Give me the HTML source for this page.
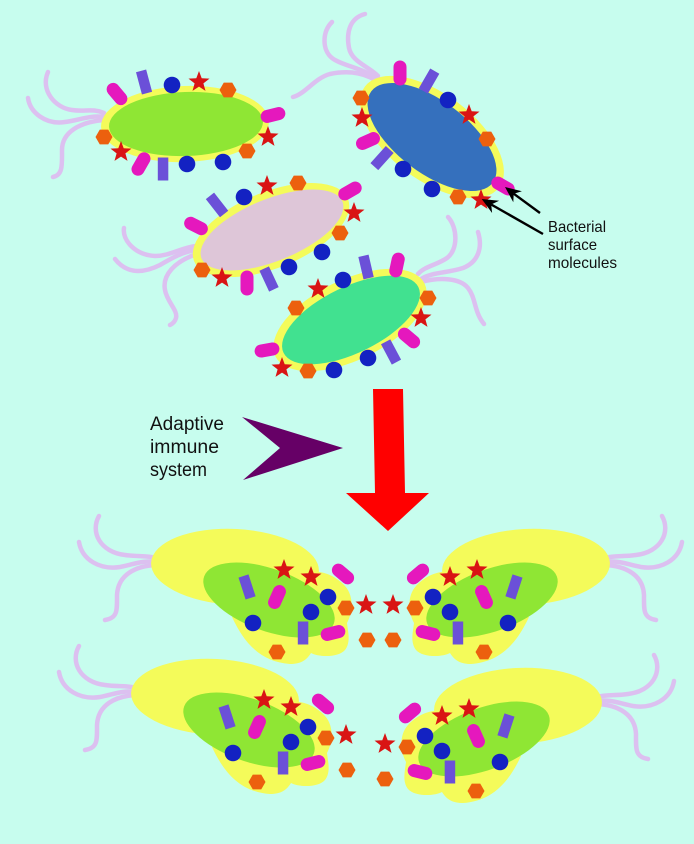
<!DOCTYPE html>
<html><head><meta charset="utf-8"><style>
html,body{margin:0;padding:0;background:#c7fdee;}
svg{display:block}
.fl{fill:none;stroke:#dcc0f0;stroke-width:4.5;stroke-linecap:round}
.y{fill:#f4fb5a}
.st{fill:#d91414}
.hx{fill:#ec600e}
.pl{fill:#e518bd}
.pr{fill:#6b50d8}
.bl{fill:#1322c2}
</style></head><body>
<svg width="694" height="844" viewBox="0 0 694 844" xmlns="http://www.w3.org/2000/svg">
<rect width="694" height="844" fill="#c7fdee"/>

<!-- Cell 1 green -->
<g>
<path class="fl" d="M48,72 C40,90 55,108 72,110 C85,112 92,108 104,113"/>
<path class="fl" d="M28,98 C30,112 45,125 65,122 C80,120 90,115 104,117"/>
<path class="fl" d="M104,120 C80,122 62,132 62,150 C62,165 63,175 53,177"/>
<ellipse class="y" cx="185" cy="124" rx="84" ry="38" transform="rotate(-2 185 124)"/>
<ellipse cx="186" cy="124" rx="77" ry="32" fill="#8fe634" transform="rotate(-2 186 124)"/>
<rect class="pl" x="-6.5" y="-12.5" width="13" height="25" rx="6.5" transform="translate(117,94) rotate(-40)"/>
<rect class="pl" x="-6.5" y="-12.5" width="13" height="25" rx="6.5" transform="translate(273,115) rotate(76)"/>
<rect class="pl" x="-6.5" y="-12.5" width="13" height="25" rx="6.5" transform="translate(141,164) rotate(30)"/>
<rect class="pr" x="-5.2" y="-11.5" width="10.5" height="23" transform="translate(144,82) rotate(-15)"/>
<rect class="pr" x="-5.2" y="-11.5" width="10.5" height="23" transform="translate(163,169)"/>
<circle class="bl" cx="172" cy="85" r="8.3"/>
<circle class="bl" cx="187" cy="164" r="8.3"/>
<circle class="bl" cx="223" cy="162" r="8.3"/>
<polygon class="st" transform="translate(199,82)" points="0,-11 2.7,-3.7 10.5,-3.4 4.4,1.4 6.5,8.9 0,4.6 -6.5,8.9 -4.4,1.4 -10.5,-3.4 -2.7,-3.7"/>
<polygon class="st" transform="translate(268,137)" points="0,-11 2.7,-3.7 10.5,-3.4 4.4,1.4 6.5,8.9 0,4.6 -6.5,8.9 -4.4,1.4 -10.5,-3.4 -2.7,-3.7"/>
<polygon class="st" transform="translate(121,152)" points="0,-11 2.7,-3.7 10.5,-3.4 4.4,1.4 6.5,8.9 0,4.6 -6.5,8.9 -4.4,1.4 -10.5,-3.4 -2.7,-3.7"/>
<polygon class="hx" transform="translate(228,90)" points="8.5,0 4.25,7.4 -4.25,7.4 -8.5,0 -4.25,-7.4 4.25,-7.4"/>
<polygon class="hx" transform="translate(247,151)" points="8.5,0 4.25,7.4 -4.25,7.4 -8.5,0 -4.25,-7.4 4.25,-7.4"/>
<polygon class="hx" transform="translate(104,137)" points="8.5,0 4.25,7.4 -4.25,7.4 -8.5,0 -4.25,-7.4 4.25,-7.4"/>
</g>

<!-- Cell 2 blue -->
<g>
<path class="fl" d="M332,22 C322,32 322,50 332,58 C342,66 365,68 378,80"/>
<path class="fl" d="M365,14 C350,18 346,32 349,48 C352,62 368,66 378,76"/>
<path class="fl" d="M293,97 C305,94 315,78 330,74 C350,70 368,73 380,84"/>
<ellipse class="y" cx="432" cy="137" rx="84" ry="43" transform="rotate(37 432 137)"/>
<ellipse cx="432" cy="137" rx="76" ry="36" fill="#3570bd" transform="rotate(37 432 137)"/>
<rect class="pl" x="-6.5" y="-12.5" width="13" height="25" rx="6.5" transform="translate(400,73)"/>
<rect class="pl" x="-6.5" y="-12.5" width="13" height="25" rx="6.5" transform="translate(503,186) rotate(-60)"/>
<rect class="pl" x="-6.5" y="-12.5" width="13" height="25" rx="6.5" transform="translate(368,141) rotate(66)"/>
<rect class="pr" x="-5.2" y="-11.5" width="10.5" height="23" transform="translate(429,81) rotate(30)"/>
<rect class="pr" x="-5.2" y="-11.5" width="10.5" height="23" transform="translate(382,158) rotate(42)"/>
<circle class="bl" cx="448" cy="100" r="8.3"/>
<circle class="bl" cx="432" cy="189" r="8.3"/>
<circle class="bl" cx="403" cy="169" r="8.3"/>
<polygon class="st" transform="translate(469,115)" points="0,-11 2.7,-3.7 10.5,-3.4 4.4,1.4 6.5,8.9 0,4.6 -6.5,8.9 -4.4,1.4 -10.5,-3.4 -2.7,-3.7"/>
<polygon class="st" transform="translate(481,200)" points="0,-11 2.7,-3.7 10.5,-3.4 4.4,1.4 6.5,8.9 0,4.6 -6.5,8.9 -4.4,1.4 -10.5,-3.4 -2.7,-3.7"/>
<polygon class="st" transform="translate(362,118)" points="0,-11 2.7,-3.7 10.5,-3.4 4.4,1.4 6.5,8.9 0,4.6 -6.5,8.9 -4.4,1.4 -10.5,-3.4 -2.7,-3.7"/>
<polygon class="hx" transform="translate(487,139)" points="8.5,0 4.25,7.4 -4.25,7.4 -8.5,0 -4.25,-7.4 4.25,-7.4"/>
<polygon class="hx" transform="translate(458,197)" points="8.5,0 4.25,7.4 -4.25,7.4 -8.5,0 -4.25,-7.4 4.25,-7.4"/>
<polygon class="hx" transform="translate(361,98)" points="8.5,0 4.25,7.4 -4.25,7.4 -8.5,0 -4.25,-7.4 4.25,-7.4"/>
</g>

<!-- Cell 3 pink -->
<g>
<path class="fl" d="M124,228 C122,240 135,255 155,256 C170,256 180,248 196,246"/>
<path class="fl" d="M115,259 C125,272 140,275 160,265 C172,258 182,252 196,250"/>
<path class="fl" d="M194,255 C175,262 162,275 165,290 C167,302 178,310 176,318 C175,322 172,324 170,325"/>
<ellipse class="y" cx="271" cy="230" rx="83" ry="38" transform="rotate(-22 271 230)"/>
<ellipse cx="272" cy="230" rx="76" ry="31" fill="#dec6d8" transform="rotate(-22 272 230)"/>
<rect class="pl" x="-6.5" y="-12.5" width="13" height="25" rx="6.5" transform="translate(350,191) rotate(60)"/>
<rect class="pl" x="-6.5" y="-12.5" width="13" height="25" rx="6.5" transform="translate(247,283)"/>
<rect class="pl" x="-6.5" y="-12.5" width="13" height="25" rx="6.5" transform="translate(196,226) rotate(-63)"/>
<rect class="pr" x="-5.2" y="-11.5" width="10.5" height="23" transform="translate(217,205) rotate(-38)"/>
<rect class="pr" x="-5.2" y="-11.5" width="10.5" height="23" transform="translate(269,279) rotate(-25)"/>
<circle class="bl" cx="244" cy="197" r="8.3"/>
<circle class="bl" cx="322" cy="252" r="8.3"/>
<circle class="bl" cx="289" cy="267" r="8.3"/>
<polygon class="st" transform="translate(267,186)" points="0,-11 2.7,-3.7 10.5,-3.4 4.4,1.4 6.5,8.9 0,4.6 -6.5,8.9 -4.4,1.4 -10.5,-3.4 -2.7,-3.7"/>
<polygon class="st" transform="translate(354,213)" points="0,-11 2.7,-3.7 10.5,-3.4 4.4,1.4 6.5,8.9 0,4.6 -6.5,8.9 -4.4,1.4 -10.5,-3.4 -2.7,-3.7"/>
<polygon class="st" transform="translate(222,278)" points="0,-11 2.7,-3.7 10.5,-3.4 4.4,1.4 6.5,8.9 0,4.6 -6.5,8.9 -4.4,1.4 -10.5,-3.4 -2.7,-3.7"/>
<polygon class="hx" transform="translate(298,183)" points="8.5,0 4.25,7.4 -4.25,7.4 -8.5,0 -4.25,-7.4 4.25,-7.4"/>
<polygon class="hx" transform="translate(340,233)" points="8.5,0 4.25,7.4 -4.25,7.4 -8.5,0 -4.25,-7.4 4.25,-7.4"/>
<polygon class="hx" transform="translate(202,270)" points="8.5,0 4.25,7.4 -4.25,7.4 -8.5,0 -4.25,-7.4 4.25,-7.4"/>
</g>

<!-- Cell 4 teal -->
<g>
<path class="fl" d="M448,217 C458,228 458,250 447,258 C437,265 425,266 418,274"/>
<path class="fl" d="M478,232 C483,248 478,262 463,268 C448,273 432,272 421,279"/>
<path class="fl" d="M421,282 C440,277 460,278 468,288 C476,298 474,312 484,324"/>
<ellipse class="y" cx="350" cy="320" rx="83" ry="40" transform="rotate(-26 350 320)"/>
<ellipse cx="351" cy="320" rx="75" ry="33" fill="#41e190" transform="rotate(-26 351 320)"/>
<rect class="pl" x="-6.5" y="-12.5" width="13" height="25" rx="6.5" transform="translate(397,265) rotate(12)"/>
<rect class="pl" x="-6.5" y="-12.5" width="13" height="25" rx="6.5" transform="translate(409,338) rotate(-50)"/>
<rect class="pl" x="-6.5" y="-12.5" width="13" height="25" rx="6.5" transform="translate(267,350) rotate(80)"/>
<rect class="pr" x="-5.2" y="-11.5" width="10.5" height="23" transform="translate(366,267) rotate(-13)"/>
<rect class="pr" x="-5.2" y="-11.5" width="10.5" height="23" transform="translate(391,352) rotate(-28)"/>
<circle class="bl" cx="343" cy="280" r="8.3"/>
<circle class="bl" cx="368" cy="358" r="8.3"/>
<circle class="bl" cx="334" cy="370" r="8.3"/>
<polygon class="st" transform="translate(318,289)" points="0,-11 2.7,-3.7 10.5,-3.4 4.4,1.4 6.5,8.9 0,4.6 -6.5,8.9 -4.4,1.4 -10.5,-3.4 -2.7,-3.7"/>
<polygon class="st" transform="translate(421,318)" points="0,-11 2.7,-3.7 10.5,-3.4 4.4,1.4 6.5,8.9 0,4.6 -6.5,8.9 -4.4,1.4 -10.5,-3.4 -2.7,-3.7"/>
<polygon class="st" transform="translate(282,368)" points="0,-11 2.7,-3.7 10.5,-3.4 4.4,1.4 6.5,8.9 0,4.6 -6.5,8.9 -4.4,1.4 -10.5,-3.4 -2.7,-3.7"/>
<polygon class="hx" transform="translate(296,308)" points="8.5,0 4.25,7.4 -4.25,7.4 -8.5,0 -4.25,-7.4 4.25,-7.4"/>
<polygon class="hx" transform="translate(428,298)" points="8.5,0 4.25,7.4 -4.25,7.4 -8.5,0 -4.25,-7.4 4.25,-7.4"/>
<polygon class="hx" transform="translate(308,371)" points="8.5,0 4.25,7.4 -4.25,7.4 -8.5,0 -4.25,-7.4 4.25,-7.4"/>
</g>

<!-- Labels and arrows -->
<g font-family="'Liberation Sans', sans-serif" fill="#111">
<text x="548" y="232" font-size="16" textLength="58" lengthAdjust="spacingAndGlyphs">Bacterial</text>
<text x="548" y="250" font-size="16" textLength="49" lengthAdjust="spacingAndGlyphs">surface</text>
<text x="548" y="268" font-size="16" textLength="69" lengthAdjust="spacingAndGlyphs">molecules</text>
<text x="150" y="430" font-size="19" textLength="74" lengthAdjust="spacingAndGlyphs">Adaptive</text>
<text x="150" y="453" font-size="19" textLength="69" lengthAdjust="spacingAndGlyphs">immune</text>
<text x="150" y="476" font-size="19" textLength="57" lengthAdjust="spacingAndGlyphs">system</text>
</g>
<line x1="540" y1="213" x2="513.7" y2="193.7" stroke="#000" stroke-width="2.4"/>
<polygon points="505,187 521.9,191.3 513.7,193.7 513.3,202.3" fill="#000"/>
<line x1="543" y1="234" x2="491.2" y2="204.5" stroke="#000" stroke-width="2.4"/>
<polygon points="481.7,199 499.1,200.8 491.2,204.5 492.1,213" fill="#000"/>

<polygon points="242,417 343,448 243,480 280,448" fill="#660066"/>
<polygon points="373,389 403,389 405,493 429,493 388,531 346,493 375,493" fill="#ff0000"/>

<!-- Bottom cells -->
<g id="c5">
<path class="fl" d="M99,516 C90,532 100,552 125,555 C138,557 146,555 156,558"/>
<path class="fl" d="M79,542 C82,560 100,570 120,567 C135,564 143,560 156,562"/>
<path class="fl" d="M156,565 C135,566 118,575 117,595 C117,610 118,618 105,620"/>
<ellipse class="y" cx="235" cy="567" rx="84" ry="38" transform="rotate(3 235 567)"/>
<path class="y" d="M232,617 C245,645 262,662 290,664 C300,664 306,661 311,653 C318,657 338,658 345,650 C351,642 348,632 347,623 C353,612 354,596 345,586 C336,576 322,570 310,572 L280,590 Z"/>
<ellipse cx="269" cy="600" rx="69" ry="31" fill="#8fe634" transform="rotate(20 269 600)"/>
<rect class="pl" x="-6.5" y="-12.5" width="13" height="25" rx="6.5" transform="translate(343,574) rotate(-50)"/>
<rect class="pl" x="-6.5" y="-12.5" width="13" height="25" rx="6.5" transform="translate(277,597) rotate(24)"/>
<rect class="pl" x="-6.5" y="-12.5" width="13" height="25" rx="6.5" transform="translate(333,633) rotate(76)"/>
<rect class="pr" x="-5.2" y="-11.5" width="10.5" height="23" transform="translate(247,587) rotate(-18)"/>
<rect class="pr" x="-5.2" y="-11.5" width="10.5" height="23" transform="translate(303,633)"/>
<circle class="bl" cx="328" cy="597" r="8.3"/>
<circle class="bl" cx="311" cy="612" r="8.3"/>
<circle class="bl" cx="253" cy="623" r="8.3"/>
<polygon class="st" transform="translate(284,570)" points="0,-11 2.7,-3.7 10.5,-3.4 4.4,1.4 6.5,8.9 0,4.6 -6.5,8.9 -4.4,1.4 -10.5,-3.4 -2.7,-3.7"/>
<polygon class="st" transform="translate(311,577)" points="0,-11 2.7,-3.7 10.5,-3.4 4.4,1.4 6.5,8.9 0,4.6 -6.5,8.9 -4.4,1.4 -10.5,-3.4 -2.7,-3.7"/>
<polygon class="st" transform="translate(366,605)" points="0,-11 2.7,-3.7 10.5,-3.4 4.4,1.4 6.5,8.9 0,4.6 -6.5,8.9 -4.4,1.4 -10.5,-3.4 -2.7,-3.7"/>
<polygon class="hx" transform="translate(346,608)" points="8.5,0 4.25,7.4 -4.25,7.4 -8.5,0 -4.25,-7.4 4.25,-7.4"/>
<polygon class="hx" transform="translate(277,652)" points="8.5,0 4.25,7.4 -4.25,7.4 -8.5,0 -4.25,-7.4 4.25,-7.4"/>
<polygon class="hx" transform="translate(367,640)" points="8.5,0 4.25,7.4 -4.25,7.4 -8.5,0 -4.25,-7.4 4.25,-7.4"/>
</g>

<g transform="translate(761,0) scale(-1,1)">
<path class="fl" d="M99,516 C90,532 100,552 125,555 C138,557 146,555 156,558"/>
<path class="fl" d="M79,542 C82,560 100,570 120,567 C135,564 143,560 156,562"/>
<path class="fl" d="M156,565 C135,566 118,575 117,595 C117,610 118,618 105,620"/>
<ellipse class="y" cx="235" cy="567" rx="84" ry="38" transform="rotate(3 235 567)"/>
<path class="y" d="M232,617 C245,645 262,662 290,664 C300,664 306,661 311,653 C318,657 338,658 345,650 C351,642 348,632 347,623 C353,612 354,596 345,586 C336,576 322,570 310,572 L280,590 Z"/>
<ellipse cx="269" cy="600" rx="69" ry="31" fill="#8fe634" transform="rotate(20 269 600)"/>
<rect class="pl" x="-6.5" y="-12.5" width="13" height="25" rx="6.5" transform="translate(343,574) rotate(-50)"/>
<rect class="pl" x="-6.5" y="-12.5" width="13" height="25" rx="6.5" transform="translate(277,597) rotate(24)"/>
<rect class="pl" x="-6.5" y="-12.5" width="13" height="25" rx="6.5" transform="translate(333,633) rotate(76)"/>
<rect class="pr" x="-5.2" y="-11.5" width="10.5" height="23" transform="translate(247,587) rotate(-18)"/>
<rect class="pr" x="-5.2" y="-11.5" width="10.5" height="23" transform="translate(303,633)"/>
<circle class="bl" cx="328" cy="597" r="8.3"/>
<circle class="bl" cx="311" cy="612" r="8.3"/>
<circle class="bl" cx="253" cy="623" r="8.3"/>
<polygon class="st" transform="translate(284,570)" points="0,-11 2.7,-3.7 10.5,-3.4 4.4,1.4 6.5,8.9 0,4.6 -6.5,8.9 -4.4,1.4 -10.5,-3.4 -2.7,-3.7"/>
<polygon class="st" transform="translate(311,577)" points="0,-11 2.7,-3.7 10.5,-3.4 4.4,1.4 6.5,8.9 0,4.6 -6.5,8.9 -4.4,1.4 -10.5,-3.4 -2.7,-3.7"/>
<polygon class="st" transform="translate(368,605)" points="0,-11 2.7,-3.7 10.5,-3.4 4.4,1.4 6.5,8.9 0,4.6 -6.5,8.9 -4.4,1.4 -10.5,-3.4 -2.7,-3.7"/>
<polygon class="hx" transform="translate(346,608)" points="8.5,0 4.25,7.4 -4.25,7.4 -8.5,0 -4.25,-7.4 4.25,-7.4"/>
<polygon class="hx" transform="translate(277,652)" points="8.5,0 4.25,7.4 -4.25,7.4 -8.5,0 -4.25,-7.4 4.25,-7.4"/>
<polygon class="hx" transform="translate(368,640)" points="8.5,0 4.25,7.4 -4.25,7.4 -8.5,0 -4.25,-7.4 4.25,-7.4"/>
</g>

<g transform="translate(-20,130)">
<path class="fl" d="M99,516 C90,532 100,552 125,555 C138,557 146,555 156,558"/>
<path class="fl" d="M79,542 C82,560 100,570 120,567 C135,564 143,560 156,562"/>
<path class="fl" d="M156,565 C135,566 118,575 117,595 C117,610 118,618 105,620"/>
<ellipse class="y" cx="235" cy="567" rx="84" ry="38" transform="rotate(3 235 567)"/>
<path class="y" d="M232,617 C245,645 262,662 290,664 C300,664 306,661 311,653 C318,657 338,658 345,650 C351,642 348,632 347,623 C353,612 354,596 345,586 C336,576 322,570 310,572 L280,590 Z"/>
<ellipse cx="269" cy="600" rx="69" ry="31" fill="#8fe634" transform="rotate(20 269 600)"/>
<rect class="pl" x="-6.5" y="-12.5" width="13" height="25" rx="6.5" transform="translate(343,574) rotate(-50)"/>
<rect class="pl" x="-6.5" y="-12.5" width="13" height="25" rx="6.5" transform="translate(277,597) rotate(24)"/>
<rect class="pl" x="-6.5" y="-12.5" width="13" height="25" rx="6.5" transform="translate(333,633) rotate(76)"/>
<rect class="pr" x="-5.2" y="-11.5" width="10.5" height="23" transform="translate(247,587) rotate(-18)"/>
<rect class="pr" x="-5.2" y="-11.5" width="10.5" height="23" transform="translate(303,633)"/>
<circle class="bl" cx="328" cy="597" r="8.3"/>
<circle class="bl" cx="311" cy="612" r="8.3"/>
<circle class="bl" cx="253" cy="623" r="8.3"/>
<polygon class="st" transform="translate(284,570)" points="0,-11 2.7,-3.7 10.5,-3.4 4.4,1.4 6.5,8.9 0,4.6 -6.5,8.9 -4.4,1.4 -10.5,-3.4 -2.7,-3.7"/>
<polygon class="st" transform="translate(311,577)" points="0,-11 2.7,-3.7 10.5,-3.4 4.4,1.4 6.5,8.9 0,4.6 -6.5,8.9 -4.4,1.4 -10.5,-3.4 -2.7,-3.7"/>
<polygon class="st" transform="translate(366,605)" points="0,-11 2.7,-3.7 10.5,-3.4 4.4,1.4 6.5,8.9 0,4.6 -6.5,8.9 -4.4,1.4 -10.5,-3.4 -2.7,-3.7"/>
<polygon class="hx" transform="translate(346,608)" points="8.5,0 4.25,7.4 -4.25,7.4 -8.5,0 -4.25,-7.4 4.25,-7.4"/>
<polygon class="hx" transform="translate(277,652)" points="8.5,0 4.25,7.4 -4.25,7.4 -8.5,0 -4.25,-7.4 4.25,-7.4"/>
<polygon class="hx" transform="translate(367,640)" points="8.5,0 4.25,7.4 -4.25,7.4 -8.5,0 -4.25,-7.4 4.25,-7.4"/>
</g>

<g transform="translate(753,139) scale(-1,1)">
<path class="fl" d="M99,516 C90,532 100,552 125,555 C138,557 146,555 156,558"/>
<path class="fl" d="M79,542 C82,560 100,570 120,567 C135,564 143,560 156,562"/>
<path class="fl" d="M156,565 C135,566 118,575 117,595 C117,610 118,618 105,620"/>
<ellipse class="y" cx="235" cy="567" rx="84" ry="38" transform="rotate(3 235 567)"/>
<path class="y" d="M232,617 C245,645 262,662 290,664 C300,664 306,661 311,653 C318,657 338,658 345,650 C351,642 348,632 347,623 C353,612 354,596 345,586 C336,576 322,570 310,572 L280,590 Z"/>
<ellipse cx="269" cy="600" rx="69" ry="31" fill="#8fe634" transform="rotate(20 269 600)"/>
<rect class="pl" x="-6.5" y="-12.5" width="13" height="25" rx="6.5" transform="translate(343,574) rotate(-50)"/>
<rect class="pl" x="-6.5" y="-12.5" width="13" height="25" rx="6.5" transform="translate(277,597) rotate(24)"/>
<rect class="pl" x="-6.5" y="-12.5" width="13" height="25" rx="6.5" transform="translate(333,633) rotate(76)"/>
<rect class="pr" x="-5.2" y="-11.5" width="10.5" height="23" transform="translate(247,587) rotate(-18)"/>
<rect class="pr" x="-5.2" y="-11.5" width="10.5" height="23" transform="translate(303,633)"/>
<circle class="bl" cx="328" cy="597" r="8.3"/>
<circle class="bl" cx="311" cy="612" r="8.3"/>
<circle class="bl" cx="253" cy="623" r="8.3"/>
<polygon class="st" transform="translate(284,570)" points="0,-11 2.7,-3.7 10.5,-3.4 4.4,1.4 6.5,8.9 0,4.6 -6.5,8.9 -4.4,1.4 -10.5,-3.4 -2.7,-3.7"/>
<polygon class="st" transform="translate(311,577)" points="0,-11 2.7,-3.7 10.5,-3.4 4.4,1.4 6.5,8.9 0,4.6 -6.5,8.9 -4.4,1.4 -10.5,-3.4 -2.7,-3.7"/>
<polygon class="st" transform="translate(368,605)" points="0,-11 2.7,-3.7 10.5,-3.4 4.4,1.4 6.5,8.9 0,4.6 -6.5,8.9 -4.4,1.4 -10.5,-3.4 -2.7,-3.7"/>
<polygon class="hx" transform="translate(346,608)" points="8.5,0 4.25,7.4 -4.25,7.4 -8.5,0 -4.25,-7.4 4.25,-7.4"/>
<polygon class="hx" transform="translate(277,652)" points="8.5,0 4.25,7.4 -4.25,7.4 -8.5,0 -4.25,-7.4 4.25,-7.4"/>
<polygon class="hx" transform="translate(368,640)" points="8.5,0 4.25,7.4 -4.25,7.4 -8.5,0 -4.25,-7.4 4.25,-7.4"/>
</g>
</svg>
</body></html>
